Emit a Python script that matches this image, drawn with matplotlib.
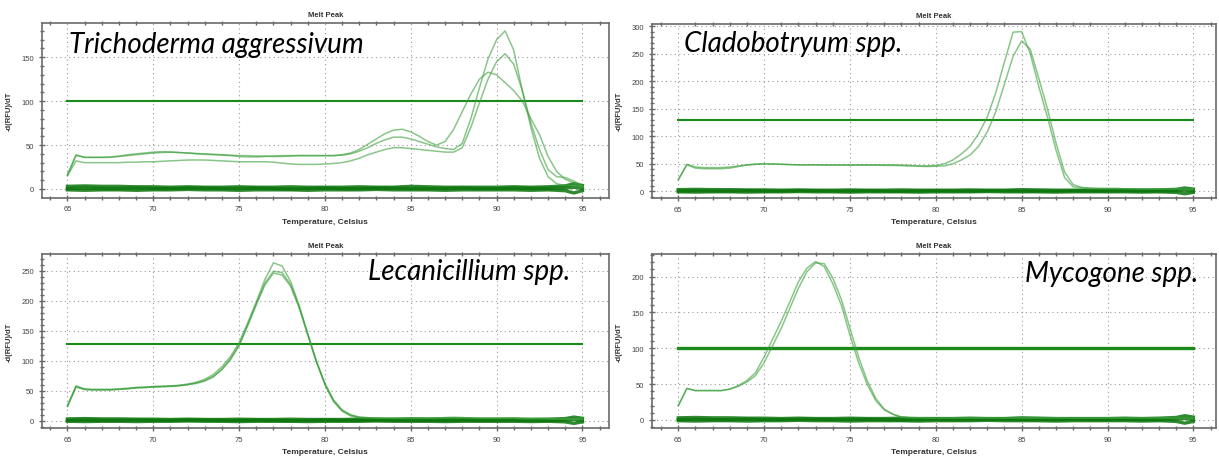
import matplotlib
matplotlib.use("Agg")
import matplotlib.pyplot as plt
from matplotlib.ticker import MultipleLocator

# temperature grid of the melt curves (every 0.5 C)
temps = [65 + 0.5 * i for i in range(61)]

# Trichoderma aggressivum
tri_1 = [16, 39, 36, 36, 36, 36, 37, 38, 39, 40, 41, 41.5, 42, 41.5, 41, 40.5, 40, 39.5, 39, 38.5,
         38, 38, 37.5, 37.5, 37, 37, 37.5, 38, 38, 38, 38, 38, 39, 41, 45, 51, 57, 63, 67, 68,
         65, 60, 54, 50, 54, 68, 88, 108, 125, 133, 130, 121, 112, 100, 80, 62, 37, 20, 11, 7, 3]
tri_2 = [16, 38, 36, 36, 36, 36.5, 37.5, 39, 40, 41, 42, 42.5, 42, 41.5, 41, 40, 39.5, 39, 38.5, 38,
         37, 36.5, 36.5, 37, 37.5, 38, 38, 38, 38, 38, 38, 38, 38.5, 40, 43, 47, 52, 56, 59, 59,
         57, 54, 51, 48, 46, 45, 52, 80, 115, 148, 170, 180, 158, 112, 70, 35, 14, 6, 4, 4, 2]
tri_3 = [15, 32, 30, 30, 30, 30, 30, 30.5, 30.5, 31, 31, 31.5, 32, 32.5, 33, 33, 33, 32.5, 32, 31.5,
         31, 31, 31, 31, 30.5, 29.5, 28.5, 28, 28, 28, 28.5, 29, 30, 32, 35, 39, 42, 45, 47, 47,
         46, 45, 44, 43, 42, 42, 47, 70, 98, 125, 145, 154, 142, 112, 75, 45, 22, 14, 13, 9, 4]

# Cladobotryum spp.
cla_1 = [21, 49, 44, 43, 43, 43, 44, 46, 48, 49.5, 50, 49.5, 49, 48.5, 48, 48, 48, 48, 48, 48,
         48, 48, 48, 48, 48, 48, 47.5, 47, 46, 46, 47, 50, 57, 68, 82, 105, 135, 180, 235, 289,
         290, 250, 190, 135, 75, 25, 8, 6, 5, 5, 5, 5, 4.5, 4.5, 4.5, 4, 4, 4, 4, 4.5, 4]
cla_2 = [21, 48, 42, 41, 41, 41, 42, 45, 47.5, 49, 49.5, 49.5, 49, 48.5, 48, 48, 48, 47.5, 47.5, 47.5,
         47.5, 47.5, 47.5, 47.5, 47, 47, 46.5, 46, 45.5, 45, 45.5, 46, 50, 57, 66, 82, 108, 145, 195, 245,
         273, 258, 205, 150, 88, 35, 12, 7, 6, 5, 5, 5, 4.5, 4.5, 4, 4, 4, 4, 4, 4, 3]

# Lecanicillium spp.
lec_1 = [25, 58, 53, 52, 52, 52, 53, 54, 55.5, 56, 57, 57.5, 58, 59, 61, 64, 69, 77, 90, 107,
         130, 163, 198, 235, 263, 258, 232, 192, 145, 100, 62, 35, 18, 10, 6, 5, 4.5, 4, 4, 4,
         4, 4, 4, 4.5, 5, 5, 5, 4.5, 4, 4, 4, 4, 4, 3.5, 3.5, 3.5, 3.5, 3, 3, 3, 3]
lec_2 = [24, 56, 52, 51, 51, 51, 52, 53, 54.5, 55, 56, 56.5, 57, 58, 60, 62, 66, 73, 85, 102,
         125, 158, 193, 226, 246, 243, 224, 188, 143, 98, 60, 32, 16, 8, 5, 4.5, 4, 4, 4, 4,
         4, 4, 4, 4.5, 5, 5.5, 5, 4.5, 4, 4, 4, 4, 4, 3.5, 3.5, 3.5, 3, 3, 3, 3, 3]
lec_3 = [24, 57, 52, 52, 52, 52, 52.5, 53.5, 55, 55.5, 56.5, 57, 57.5, 58.5, 60, 63, 67, 74, 86, 103,
         126, 160, 195, 229, 249, 247, 227, 190, 144, 99, 61, 33, 17, 9, 5.5, 5, 4.5, 4, 4, 4,
         4, 4, 4, 4.5, 5, 5, 5, 4.5, 4, 4, 4, 4, 4, 3.5, 3.5, 3.5, 3, 3, 3, 3, 3]

# Mycogone spp.
myc_1 = [20, 44, 41, 41, 41, 41, 43, 48, 55, 66, 88, 113, 138, 165, 193, 212, 221, 214, 190, 160,
         118, 80, 50, 27, 14, 8, 4, 3, 3, 2.5, 2.5, 2.5, 2.5, 2.5, 2.5, 2.5, 2.5, 2.5, 2.5, 2.5,
         2.5, 2.5, 2.5, 2.5, 2.5, 2.5, 2.5, 2.5, 2.5, 2.5, 2.5, 2.5, 2.5, 2.5, 2.5, 2.5, 2.5, 2.5, 2.5, 2.5, 2]
myc_2 = [20, 44, 41, 41, 41, 41, 43, 47, 53, 62, 80, 104, 128, 156, 184, 207, 219, 218, 198, 168,
         128, 88, 55, 30, 15, 8, 4, 3, 3, 3, 3, 3, 3, 3, 3, 3, 3, 3, 3, 3,
         3, 3, 3, 3, 3, 3, 3, 3, 3, 3, 3, 3, 3, 3, 3, 3, 3, 3, 3, 3, 2.5]

# negative / no-template wells hugging zero
base_temps = [65, 66, 67, 68, 69, 70, 71, 72, 73, 74, 75, 76, 77, 78, 79, 80, 81, 82, 83, 84,
              85, 86, 87, 88, 89, 90, 91, 92, 93, 94, 94.5, 95]
base_hi = [3, 3.5, 3, 3, 2.5, 2.5, 2, 2.5, 2, 2, 2.5, 2, 2, 2.5, 2, 2, 2, 2.5, 2, 2,
           3, 2.5, 2, 2, 2, 2, 2.5, 2, 2.5, 3.5, 6, 4]
base_mid = [0.5, 1, 0.5, 0.5, 1, 0.5, 0.5, 1, 1, 0.5, 0.5, 1, 0.5, 0, 0.5, 1, 0.5, 0.5, 1, 1,
            0.5, 0.5, 0.5, 1, 0.5, 0.5, 1, 0.5, 0.5, 1, 2, 0.5]
base_lo = [-1, -1.5, -1, -1, -1.5, -1, -1, -0.5, -1, -1, -1.5, -1, -1, -1, -1.5, -1, -1, -1, -0.5, -1,
           -1, -1, -1.5, -1, -1, -1, -1, -1.5, -1, -2, -4.5, -2]

names = ["Trichoderma aggressivum", "Cladobotryum spp.", "Lecanicillium spp.", "Mycogone spp."]
curves = [[tri_1, tri_2, tri_3], [cla_1, cla_2], [lec_1, lec_2, lec_3], [myc_1, myc_2]]
thresholds = [100, 130, 127, 100]
y_tops = [150, 300, 250, 200]

W, H = 1219, 460
fig = plt.figure(figsize=(W / 100, H / 100), dpi=100, facecolor="white")

# axes boxes in pixels: left, top, right, bottom
boxes = [(41.7, 24, 609, 198.5), (651.7, 24.5, 1216, 199),
         (41.7, 254.7, 609, 429.3), (651.7, 254.7, 1216, 429.3)]
xlims = [(63.5, 96.55), (63.45, 96.32), (63.5, 96.55), (63.45, 96.32)]
ylims = [(-9.7, 189), (-12.2, 304.7), (-12.7, 278.3), (-11.6, 231.9)]
thr_lw = [1.5, 1.5, 1.5, 2.4]

# label positions (pixels, left / baseline)
label_pos = [(69, 53), (684, 52), (368, 280), (1025, 282)]

small = "Liberation Sans"
for i in range(4):
    l, t, r, b = boxes[i]
    ax = fig.add_axes([l / W, 1 - b / H, (r - l) / W, (b - t) / H])
    ax.set_xlim(*xlims[i])
    ax.set_ylim(*ylims[i])

    for yv in curves[i]:
        ax.plot(temps, yv, color="#3b9f3b", lw=1.1, alpha=0.6, zorder=3)
    for yv in (base_hi, base_lo, base_mid):
        ax.plot(base_temps, yv, color="#0d760d", lw=2.4, alpha=0.85, zorder=2)
    ax.plot([65, 95], [thresholds[i], thresholds[i]], color="#1a8a1a", lw=thr_lw[i], zorder=2)

    ax.set_xticks([65, 70, 75, 80, 85, 90, 95])
    ax.xaxis.set_minor_locator(MultipleLocator(1))
    ax.set_yticks(list(range(0, y_tops[i] + 1, 50)))
    ax.yaxis.set_minor_locator(MultipleLocator(10))
    ax.grid(True, which="major", linestyle=(0, (1, 3)), color="#9a9a9a", lw=0.8)
    ax.tick_params(which="both", direction="inout", color="#666666", width=1,
                   labelsize=5.5, labelcolor="#444444", pad=3)
    ax.tick_params(which="major", length=5)
    ax.tick_params(which="minor", length=3)
    ax.tick_params(top=True, which="minor")
    for sp in ax.spines.values():
        sp.set_color("#6a6a6a")
        sp.set_linewidth(1.2)
    for lab in ax.get_xticklabels() + ax.get_yticklabels():
        lab.set_family(small)

    ax.set_title("Melt Peak", fontsize=5.5, fontweight="bold", color="#333333",
                 family=small, pad=5)
    ax.set_xlabel("Temperature, Celsius", fontsize=6, fontweight="bold", color="#333333",
                  family=small, labelpad=4)
    ax.set_ylabel("-d(RFU)/dT", fontsize=5.5, fontweight="bold", color="#333333",
                  family=small, labelpad=6)

    x, y = label_pos[i]
    fig.text(x / W, 1 - y / H, names[i], fontsize=20, style="italic",
             family=["Lato", "DejaVu Sans"], color="black", ha="left", va="baseline")

fig.savefig("out.png", dpi=100, facecolor="white")
